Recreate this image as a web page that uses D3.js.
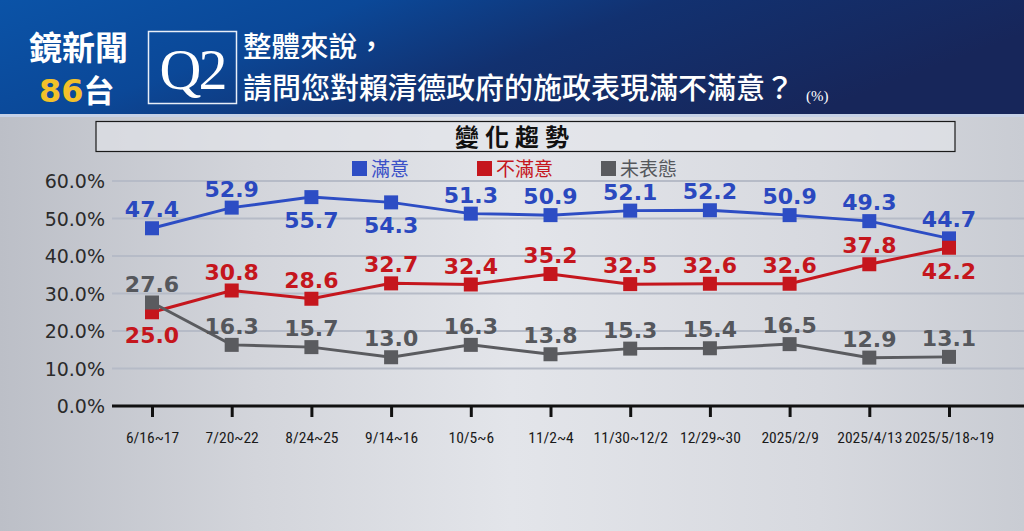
<!DOCTYPE html>
<html>
<head>
<meta charset="utf-8">
<script src="https://cdn.jsdelivr.net/npm/d3@7"></script>
<style>
  body { margin: 0; background: #d4d6dc; }
  svg { display: block; }
</style>
</head>
<body>
<svg></svg>
<script>
// survey dates
var dates = ["6/16~17", "7/20~22", "8/24~25", "9/14~16", "10/5~6", "11/2~4",
             "11/30~12/2", "12/29~30", "2025/2/9", "2025/4/13", "2025/5/18~19"];

var satisfied    = [47.4, 52.9, 55.7, 54.3, 51.3, 50.9, 52.1, 52.2, 50.9, 49.3, 44.7];
var dissatisfied = [25.0, 30.8, 28.6, 32.7, 32.4, 35.2, 32.5, 32.6, 32.6, 37.8, 42.2];
var noOpinion    = [27.6, 16.3, 15.7, 13.0, 16.3, 13.8, 15.3, 15.4, 16.5, 12.9, 13.1];

// where the value label sits: 1 = above marker, -1 = below
var satPos  = [1, 1, -1, -1, 1, 1, 1, 1, 1, 1, 1];
var disPos  = [-1, 1, 1, 1, 1, 1, 1, 1, 1, 1, -1];
var noPos   = [1, 1, 1, 1, 1, 1, 1, 1, 1, 1, 1];

var yTicks = [0, 10, 20, 30, 40, 50, 60];

var w = 1024, h = 531;

var svg = d3.select("svg").attr("width", w).attr("height", h);
var defs = svg.append("defs");

// backgrounds
var hg = defs.append("linearGradient").attr("id", "hdr")
    .attr("x1", "0").attr("y1", "0").attr("x2", "1").attr("y2", "0.3");
hg.append("stop").attr("offset", "0").attr("stop-color", "#0b53a7");
hg.append("stop").attr("offset", "0.33").attr("stop-color", "#0b4898");
hg.append("stop").attr("offset", "0.6").attr("stop-color", "#123170");
hg.append("stop").attr("offset", "1").attr("stop-color", "#17265a");

var pg = defs.append("linearGradient").attr("id", "panel")
    .attr("x1", "0").attr("y1", "0").attr("x2", "1").attr("y2", "0");
pg.append("stop").attr("offset", "0").attr("stop-color", "#bcbfc7");
pg.append("stop").attr("offset", "0.25").attr("stop-color", "#d3d5db");
pg.append("stop").attr("offset", "0.5").attr("stop-color", "#e3e5ea");
pg.append("stop").attr("offset", "0.8").attr("stop-color", "#d7d9df");
pg.append("stop").attr("offset", "1").attr("stop-color", "#c9ccd3");

svg.append("rect").attr("x", 0).attr("y", 0).attr("width", w).attr("height", h)
    .attr("fill", "url(#panel)");
svg.append("rect").attr("x", 0).attr("y", 0).attr("width", w).attr("height", 114)
    .attr("fill", "url(#hdr)");
svg.append("rect").attr("x", 0).attr("y", 114).attr("width", w).attr("height", 3)
    .attr("fill", "#c6d1e6");

// logo
var cjk = "'Noto Sans CJK TC', 'Noto Sans CJK SC', sans-serif";
svg.append("text").attr("x", 29).attr("y", 60)
    .attr("font-family", cjk).attr("font-weight", "bold").attr("font-size", 33)
    .attr("fill", "#fff").text("鏡新聞");
var t86 = svg.append("text").attr("x", 39).attr("y", 102)
    .attr("font-family", "'DejaVu Sans', sans-serif").attr("font-weight", "bold")
    .attr("font-size", 32);
t86.append("tspan").attr("fill", "#f3c12a").text("86");
t86.append("tspan").attr("fill", "#fff").attr("font-family", cjk).attr("font-size", 31).text("台");

// Q2 box
svg.append("rect").attr("x", 148.5).attr("y", 31.5).attr("width", 88).attr("height", 72)
    .attr("fill", "none").attr("stroke", "#e8eef8").attr("stroke-width", 1.5);
svg.append("text").attr("x", 192).attr("y", 89).attr("text-anchor", "middle")
    .attr("font-family", "'Liberation Serif', 'DejaVu Serif', serif")
    .attr("font-size", 58).attr("letter-spacing", -3)
    .attr("fill", "#fff").text("Q2");

// question
svg.append("text").attr("x", 243).attr("y", 57)
    .attr("font-family", cjk).attr("font-weight", 500).attr("font-size", 28.5)
    .attr("fill", "#fff").text("整體來說，");
svg.append("text").attr("x", 243).attr("y", 99)
    .attr("font-family", cjk).attr("font-weight", 500).attr("font-size", 29)
    .attr("fill", "#fff").text("請問您對賴清德政府的施政表現滿不滿意？");
svg.append("text").attr("x", 806).attr("y", 101)
    .attr("font-family", "'Liberation Serif', serif").attr("font-size", 15)
    .attr("fill", "#fff").text("(%)");

// sub title box
svg.append("rect").attr("x", 96).attr("y", 121.5).attr("width", 859).attr("height", 30)
    .attr("fill", "#e4e6eb").attr("fill-opacity", 0.6)
    .attr("stroke", "#1a1a1a").attr("stroke-width", 1.2);
svg.append("text").attr("x", 515).attr("y", 146).attr("text-anchor", "middle")
    .attr("font-family", cjk).attr("font-weight", "bold").attr("font-size", 24)
    .attr("letter-spacing", 6).attr("fill", "#111").text("變化趨勢");

// scales
var x = d3.scalePoint().domain(dates).range([152, 949]);
var y = d3.scaleLinear().domain([0, 60]).range([406, 181]);

// grid
svg.append("g").selectAll("line")
    .data(yTicks.slice(1))
    .enter()
    .append("line")
    .attr("x1", 112).attr("x2", w)
    .attr("y1", function (d) { return y(d); })
    .attr("y2", function (d) { return y(d); })
    .attr("stroke", "#b6bbc7").attr("stroke-width", 2);

// y labels
svg.append("g").selectAll("text")
    .data(yTicks)
    .enter()
    .append("text")
    .attr("x", 105)
    .attr("y", function (d) { return y(d) + 7; })
    .attr("text-anchor", "end")
    .attr("font-family", "'DejaVu Sans', sans-serif")
    .attr("font-size", 19)
    .attr("fill", "#2b2b2b")
    .text(function (d) { return d.toFixed(1) + "%"; });

// x axis
var xAxis = d3.axisBottom(x).tickSize(11).tickPadding(15);
var gx = svg.append("g").attr("transform", "translate(0,406)").call(xAxis);
gx.select(".domain").remove();
gx.selectAll(".tick line").attr("stroke", "#111").attr("stroke-width", 3);
gx.selectAll(".tick text")
    .attr("font-family", "'Liberation Sans Narrow', 'Roboto Condensed', 'Liberation Sans', sans-serif")
    .attr("font-weight", "normal")
    .attr("font-size", 15.5)
    .attr("fill", "#1a1a1a");
svg.append("line").attr("x1", 112).attr("x2", w).attr("y1", 406).attr("y2", 406)
    .attr("stroke", "#111").attr("stroke-width", 3);

// series
var series = [
    { name: "滿意",   values: satisfied,    pos: satPos, color: "#2d4dc4", text: "#2a48bf", legendX: 352 },
    { name: "不滿意", values: dissatisfied, pos: disPos, color: "#c5161d", text: "#c5161d", legendX: 477 },
    { name: "未表態", values: noOpinion,    pos: noPos,  color: "#5a5b5f", text: "#55575c", legendX: 601 }
];

var line = d3.line()
    .x(function (d, i) { return x(dates[i]); })
    .y(function (d) { return y(d); });

series.forEach(function (s) {
    var g = svg.append("g");
    g.append("path")
        .attr("d", line(s.values))
        .attr("fill", "none")
        .attr("stroke", s.color)
        .attr("stroke-width", 3);

    g.selectAll("rect")
        .data(s.values)
        .enter()
        .append("rect")
        .attr("x", function (d, i) { return x(dates[i]) - 7; })
        .attr("y", function (d) { return y(d) - 7; })
        .attr("width", 14).attr("height", 14)
        .attr("fill", s.color);

    g.selectAll("text")
        .data(s.values)
        .enter()
        .append("text")
        .attr("x", function (d, i) { return x(dates[i]); })
        .attr("y", function (d, i) { return s.pos[i] > 0 ? y(d) - 11 : y(d) + 31; })
        .attr("text-anchor", "middle")
        .attr("font-family", "'DejaVu Sans', sans-serif")
        .attr("font-weight", "bold")
        .attr("font-size", 22)
        .attr("fill", s.text)
        .text(function (d) { return d.toFixed(1); });

    // legend
    svg.append("rect").attr("x", s.legendX).attr("y", 161).attr("width", 15).attr("height", 15)
        .attr("fill", s.color);
    svg.append("text").attr("x", s.legendX + 19).attr("y", 176)
        .attr("font-family", cjk).attr("font-size", 19)
        .attr("fill", s.name === "滿意" ? "#3a50c8" : s.text)
        .text(s.name);
});
</script>
</body>
</html>
